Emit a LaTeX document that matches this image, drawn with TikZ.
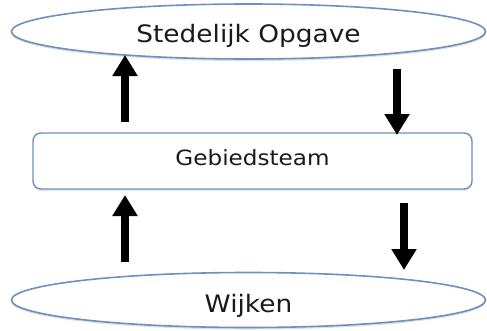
\documentclass[tikz,border=0pt]{standalone}
\usepackage{fontspec}
\setmainfont{DejaVu Sans}
\newfontfamily\widesans[FakeStretch=1.1]{DejaVu Sans}
\usetikzlibrary{arrows.meta,shadows,shapes.geometric}
\definecolor{edgeblue}{HTML}{6F8FBF}
\definecolor{txt}{HTML}{1A1A1A}
\tikzset{
  oval/.style={draw=edgeblue, line width=1.6pt, fill=white, ellipse, inner sep=0pt,
    minimum width=474pt, minimum height=55pt, font=\widesans\fontsize{24}{28}\selectfont, text=txt,
    text depth=0pt,
    drop shadow={shadow xshift=0pt, shadow yshift=-2pt, opacity=0.25}},
  box/.style={draw=edgeblue, line width=1.4pt, fill=white, rounded corners=8pt, inner sep=0pt,
    minimum width=439pt, minimum height=56pt, font=\widesans\fontsize{21}{25}\selectfont, text=txt,
    text depth=0pt,
    drop shadow={shadow xshift=0pt, shadow yshift=-2pt, opacity=0.2}},
  flow/.style={line width=8pt, -{Triangle[width=24pt,length=21pt]}, black}
}
\begin{document}
\begin{tikzpicture}[x=1pt,y=-1pt]
  \useasboundingbox (0,0) rectangle (487,330);
  \node[oval, text height=21.5pt] (top) at (248.5,31.5) {Stedelijk Opgave};
  \node[box, text height=9.3pt] (mid) at (252.5,161) {Gebiedsteam};
  \node[oval, text height=25.5pt] (bot) at (248.5,300) {Wijken};
  \coordinate (u1s) at (125,122);
  \coordinate (u1e) at (125,55);
  \coordinate (d1s) at (397,69);
  \coordinate (d1e) at (397,135);
  \coordinate (u2s) at (125,262);
  \coordinate (u2e) at (125,195);
  \coordinate (d2s) at (404,203);
  \coordinate (d2e) at (404,270);
  \draw[flow] (u1s) -- (u1e);
  \draw[flow] (d1s) -- (d1e);
  \draw[flow] (u2s) -- (u2e);
  \draw[flow] (d2s) -- (d2e);
\end{tikzpicture}
\end{document}
